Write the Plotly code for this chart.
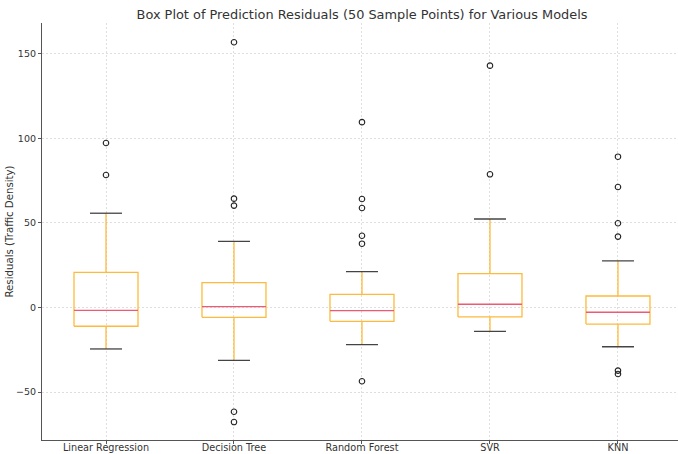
import plotly.graph_objects as go

models = ["Linear Regression", "Decision Tree", "Random Forest", "SVR", "KNN"]
q1 = [-11.1, -5.8, -8.2, -5.6, -9.8]
median = [-1.7, 0.5, -1.9, 1.9, -2.8]
q3 = [20.8, 14.7, 7.8, 20.0, 6.8]
whisker_low = [-24.5, -31.2, -22.0, -14.1, -23.2]
whisker_high = [55.7, 39.1, 21.2, 52.3, 27.5]
outliers = [
    [97.2, 78.3],
    [156.7, 64.3, 60.2, -61.6, -67.7],
    [109.5, 64.1, 58.8, 42.4, 37.7, -43.6],
    [142.9, 78.7],
    [89.1, 71.2, 49.8, 41.9, -37.3, -39.3],
]
y_ticks = [-50, 0, 50, 100, 150]

BOX_HALF = 0.25
CAP_HALF = 0.125
ORANGE = "#FDBA3C"
MEDIAN_C = "#EE5A73"
CAP_C = "#444444"

bx, by, mx, my, wx, wy, cx, cy, ox, oy = [], [], [], [], [], [], [], [], [], []
for i in range(len(models)):
    l, r = i - BOX_HALF, i + BOX_HALF
    bx += [l, r, r, l, l, None]
    by += [q1[i], q1[i], q3[i], q3[i], q1[i], None]
    mx += [l, r, None]
    my += [median[i], median[i], None]
    wx += [i, i, None, i, i, None]
    wy += [q1[i], whisker_low[i], None, q3[i], whisker_high[i], None]
    cx += [i - CAP_HALF, i + CAP_HALF, None, i - CAP_HALF, i + CAP_HALF, None]
    cy += [whisker_low[i], whisker_low[i], None, whisker_high[i], whisker_high[i], None]
    for v in outliers[i]:
        ox.append(i)
        oy.append(v)

fig = go.Figure()
fig.add_trace(go.Scatter(x=wx, y=wy, mode="lines", line=dict(color=ORANGE, width=1.3), hoverinfo="skip"))
fig.add_trace(go.Scatter(x=cx, y=cy, mode="lines", line=dict(color=CAP_C, width=1.3), hoverinfo="skip"))
fig.add_trace(go.Scatter(x=bx, y=by, mode="lines", line=dict(color=ORANGE, width=1.3), hoverinfo="skip"))
fig.add_trace(go.Scatter(x=mx, y=my, mode="lines", line=dict(color=MEDIAN_C, width=1.3), hoverinfo="skip"))
fig.add_trace(go.Scatter(x=ox, y=oy, mode="markers",
                         marker=dict(symbol="circle-open", size=5.5, color="#222222", line=dict(width=1.1))))

fig.update_layout(
    width=678, height=454,
    margin=dict(l=42, r=0, t=23, b=14),
    paper_bgcolor="white", plot_bgcolor="white",
    showlegend=False,
    font=dict(family="DejaVu Sans", color="#333333", size=9.5),
    title=dict(text="Box Plot of Prediction Residuals (50 Sample Points) for Various Models",
               x=(362 / 678), xanchor="center", y=1 - 14 / 454, yanchor="middle",
               font=dict(size=12.9, color="#333333")),
)
fig.update_xaxes(
    range=[-0.5, 4.469], tickmode="array", tickvals=list(range(len(models))), ticktext=models,
    showgrid=True, gridcolor="#dedede", griddash="2px,2px", gridwidth=0.8,
    showline=True, linecolor="#555555", linewidth=1.2,
    ticks="outside", ticklen=3, tickcolor="#555555", zeroline=False,
    ticklabelstandoff=-5, tickfont=dict(size=9.7),
)
fig.update_yaxes(
    range=[-78.3, 168.1], tickmode="array", tickvals=y_ticks,
    showgrid=True, gridcolor="#dedede", griddash="2px,2px", gridwidth=0.8,
    showline=True, linecolor="#555555", linewidth=1.2,
    ticks="outside", ticklen=3, tickcolor="#555555", zeroline=False,
    title=dict(text="Residuals (Traffic Density)", font=dict(size=10.2), standoff=0),
)
fig.write_html("out.html", post_script="document.body.style.margin='0';",
               config={"displayModeBar": False})
